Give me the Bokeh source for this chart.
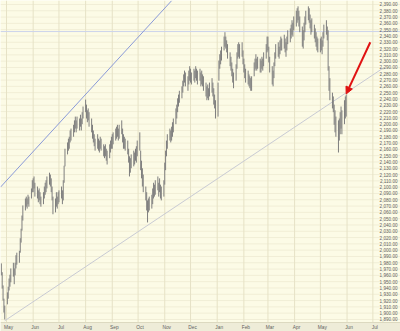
import pandas as pd
from bokeh.plotting import figure
from bokeh.models import Range1d, Arrow, NormalHead, ColumnDataSource
from bokeh.embed import file_html
from bokeh.resources import INLINE
from bokeh.core.properties import value

# ---------------- data (daily high / low) ----------------
first_bar = "2016-04-25"

apr16_hi = [1979, 1965, 1944, 1923, 1912]
apr16_lo = [1960, 1939, 1920, 1901, 1890]
may16_hi = [1933, 1942, 1955, 1961, 1971, 1980, 1971, 1980, 1992, 1996, 1999, 2019, 2034, 2055, 2071, 2082, 2085, 2082, 2088, 2085, 2098, 2111]
may16_lo = [1914, 1923, 1936, 1942, 1949, 1958, 1946, 1960, 1971, 1977, 1980, 1996, 2012, 2031, 2047, 2063, 2069, 2066, 2073, 2069, 2082, 2092]
jun16_hi = [2114, 2117, 2107, 2101, 2095, 2098, 2092, 2085, 2092, 2101, 2107, 2111, 2117, 2123, 2120, 2114, 2101, 2085, 2082, 2092, 2085, 2092]
jun16_lo = [2092, 2098, 2085, 2082, 2076, 2079, 2073, 2069, 2073, 2082, 2088, 2092, 2098, 2104, 2101, 2092, 2079, 2057, 2060, 2069, 2066, 2073]
jul16_hi = [2095, 2101, 2095, 2111, 2134, 2161, 2171, 2177, 2180, 2190, 2193, 2199, 2206, 2212, 2206, 2212, 2209, 2215, 2209, 2219, 2228]
jul16_lo = [2076, 2082, 2073, 2079, 2107, 2133, 2152, 2158, 2161, 2171, 2174, 2180, 2187, 2193, 2187, 2193, 2190, 2196, 2190, 2200, 2209]
aug16_hi = [2239, 2231, 2222, 2225, 2219, 2209, 2199, 2190, 2184, 2177, 2184, 2177, 2174, 2180, 2177, 2168, 2165, 2168, 2161, 2158, 2168, 2174, 2180]
aug16_lo = [2219, 2209, 2203, 2206, 2196, 2187, 2177, 2171, 2165, 2158, 2161, 2158, 2155, 2161, 2158, 2149, 2146, 2149, 2142, 2136, 2146, 2155, 2161]
sep16_hi = [2184, 2187, 2193, 2196, 2199, 2193, 2199, 2206, 2193, 2184, 2180, 2177, 2174, 2161, 2149, 2146, 2152, 2158, 2155, 2161, 2165, 2174]
sep16_lo = [2161, 2168, 2174, 2177, 2180, 2174, 2177, 2184, 2171, 2161, 2161, 2158, 2152, 2139, 2117, 2123, 2130, 2133, 2136, 2142, 2139, 2149]
oct16_hi = [2187, 2158, 2142, 2130, 2120, 2101, 2092, 2079, 2082, 2085, 2088, 2098, 2107, 2104, 2111, 2117, 2107, 2114, 2104, 2101, 2111]
oct16_lo = [2158, 2127, 2114, 2101, 2092, 2079, 2063, 2044, 2060, 2063, 2066, 2073, 2082, 2085, 2088, 2095, 2085, 2092, 2082, 2079, 2085]
nov16_hi = [2139, 2158, 2174, 2184, 2193, 2190, 2196, 2203, 2209, 2225, 2231, 2241, 2247, 2253, 2260, 2269, 2279, 2285, 2282, 2276, 2285, 2292]
nov16_lo = [2104, 2127, 2149, 2161, 2174, 2171, 2174, 2180, 2187, 2200, 2209, 2219, 2228, 2234, 2241, 2250, 2260, 2266, 2260, 2253, 2263, 2269]
dec16_hi = [2288, 2282, 2288, 2285, 2292, 2288, 2285, 2288, 2282, 2285, 2279, 2276, 2266, 2260, 2263, 2257, 2266, 2273, 2266, 2257, 2247, 2238]
dec16_lo = [2266, 2263, 2269, 2266, 2273, 2269, 2263, 2269, 2260, 2263, 2260, 2253, 2244, 2238, 2241, 2238, 2244, 2250, 2244, 2231, 2225, 2209]
jan17_hi = [2266, 2301, 2311, 2317, 2323, 2339, 2346, 2339, 2333, 2327, 2314, 2307, 2298, 2288, 2282, 2295, 2314, 2327, 2330, 2327, 2330, 2317]
jan17_lo = [2212, 2269, 2288, 2295, 2301, 2317, 2323, 2320, 2314, 2304, 2292, 2285, 2276, 2266, 2257, 2269, 2288, 2304, 2307, 2304, 2307, 2295]
feb17_hi = [2304, 2295, 2288, 2285, 2279, 2276, 2273, 2276, 2298, 2304, 2311, 2304, 2307, 2304, 2301, 2307, 2304, 2314, 2327, 2339]
feb17_lo = [2282, 2273, 2266, 2263, 2260, 2257, 2253, 2253, 2276, 2285, 2288, 2285, 2288, 2282, 2282, 2288, 2285, 2292, 2304, 2314]
mar17_hi = [2339, 2323, 2307, 2292, 2285, 2298, 2314, 2327, 2330, 2323, 2333, 2339, 2336, 2342, 2336, 2330, 2339, 2349, 2352, 2358, 2365, 2361, 2371]
mar17_lo = [2317, 2298, 2282, 2263, 2260, 2273, 2292, 2304, 2307, 2304, 2311, 2317, 2317, 2320, 2314, 2307, 2317, 2327, 2330, 2336, 2342, 2339, 2349]
apr17_hi = [2380, 2384, 2387, 2380, 2371, 2355, 2349, 2361, 2371, 2380, 2387, 2384, 2374, 2365, 2368, 2358, 2352, 2346, 2339, 2336]
apr17_lo = [2355, 2361, 2365, 2355, 2346, 2323, 2320, 2333, 2346, 2358, 2365, 2361, 2352, 2342, 2346, 2336, 2330, 2323, 2317, 2314]
may17_hi = [2336, 2339, 2333, 2346, 2358, 2365, 2355, 2349, 2292, 2273, 2250, 2244, 2231, 2222, 2212, 2206, 2209, 2219, 2228, 2222, 2238, 2244, 2247]
may17_lo = [2314, 2317, 2311, 2323, 2336, 2342, 2333, 2285, 2253, 2238, 2225, 2219, 2199, 2187, 2180, 2155, 2174, 2184, 2193, 2184, 2200, 2209, 2212]

month_starts = ["2016-05-01", "2016-06-01", "2016-07-01", "2016-08-01", "2016-09-01",
                "2016-10-01", "2016-11-01", "2016-12-01", "2017-01-01", "2017-02-01",
                "2017-03-01", "2017-04-01", "2017-05-01", "2017-06-01", "2017-07-01"]
month_labels = ["May", "Jun", "Jul", "Aug", "Sep", "Oct", "Nov", "Dec",
                "Jan", "Feb", "Mar", "Apr", "May", "Jun", "Jul"]
price_ticks = list(range(1890, 2391, 10))

# annotation anchors (date, price)
upper_trend = (["2016-04-24", "2016-11-09"], [2100, 2396])
lower_trend = (["2016-04-29", "2017-07-14"], [1888, 2290])
resistance_level = 2347
arrow_from = ("2017-06-28", 2330)
arrow_to = ("2017-05-31", 2248)

# ---------------- build ----------------
highs = (apr16_hi + may16_hi + jun16_hi + jul16_hi + aug16_hi + sep16_hi + oct16_hi +
         nov16_hi + dec16_hi + jan17_hi + feb17_hi + mar17_hi + apr17_hi + may17_hi)
lows = (apr16_lo + may16_lo + jun16_lo + jul16_lo + aug16_lo + sep16_lo + oct16_lo +
        nov16_lo + dec16_lo + jan17_lo + feb17_lo + mar17_lo + apr17_lo + may17_lo)
dates = pd.bdate_range(first_bar, periods=len(highs))


def ms(d):
    return pd.Timestamp(d).value / 1e6


DAY = 86400000.0
PX_PER_DAY = 0.86
PX_PER_UNIT = 0.63
W, H = 400, 331
origin = ms("2016-05-01")
x0 = origin - (6 / PX_PER_DAY) * DAY
x1 = x0 + (W / PX_PER_DAY) * DAY
Y_TOP = 2396.3
y0 = Y_TOP - H / PX_PER_UNIT

BG = "#fcfbe6"
GRID_H = "#f1eed6"
GRID_V = "#e6e2c6"
BAND = "#eeecd8"
TXT = "#5f5f5f"
FONT = value("Liberation Sans")

p = figure(width=W, height=H, output_backend="svg", toolbar_location=None,
           x_range=Range1d(x0, x1), y_range=Range1d(y0, Y_TOP),
           x_axis_location=None, y_axis_location=None, min_border=0,
           title=None, background_fill_color=BG, border_fill_color=BG,
           outline_line_color=None)
p.grid.grid_line_color = None

band_top = Y_TOP - 322 / PX_PER_UNIT

# horizontal grid
p.segment(x0=[x0] * len(price_ticks), x1=[x1] * len(price_ticks),
          y0=price_ticks, y1=price_ticks, line_color=GRID_H, line_width=1)
# vertical month grid
mx = [ms(d) for d in month_starts]
p.segment(x0=mx, x1=mx, y0=[band_top] * len(mx), y1=[Y_TOP] * len(mx),
          line_color=GRID_V, line_width=1)

# bottom band
p.quad(left=[x0], right=[x1], bottom=[y0], top=[band_top], fill_color=BAND,
       line_color=None)
p.segment(x0=[x0], x1=[x1], y0=[band_top], y1=[band_top], line_color="#dcd9c0",
          line_width=1)

# resistance line
p.segment(x0=[x0], x1=[x1], y0=[resistance_level], y1=[resistance_level],
          line_color="#ccd3ec", line_width=1)

# trend lines
p.line([ms(d) for d in upper_trend[0]], upper_trend[1], line_color="#8a9ad8", line_width=1)
p.line([ms(d) for d in lower_trend[0]], lower_trend[1], line_color="#c9cbd4", line_width=1)

# price bars
src = ColumnDataSource(dict(x=[ms(d) for d in dates], hi=highs, lo=lows))
p.segment(x0="x", x1="x", y0="lo", y1="hi", source=src, line_color="#7e7e7e", line_width=1)

# red arrow
red = "#e01212"
p.add_layout(Arrow(end=NormalHead(size=7, fill_color=red, line_color=red),
                   x_start=ms(arrow_from[0]), y_start=arrow_from[1],
                   x_end=ms(arrow_to[0]), y_end=arrow_to[1],
                   line_color=red, line_width=2))

# price labels (right)
p.text(x=[x1] * len(price_ticks), y=price_ticks,
       text=[f"{v:,.2f}" for v in price_ticks], x_offset=-3,
       text_font=FONT, text_font_size="4.6px", text_color=TXT,
       text_align="right", text_baseline="middle")

# month labels (bottom)
label_y = Y_TOP - 327 / PX_PER_UNIT
p.text(x=mx, y=[label_y] * len(mx), text=month_labels, x_offset=2,
       text_font=FONT, text_font_size="4.8px", text_color=TXT,
       text_align="center", text_baseline="middle")

open("out.html", "w").write(file_html(p, INLINE))
